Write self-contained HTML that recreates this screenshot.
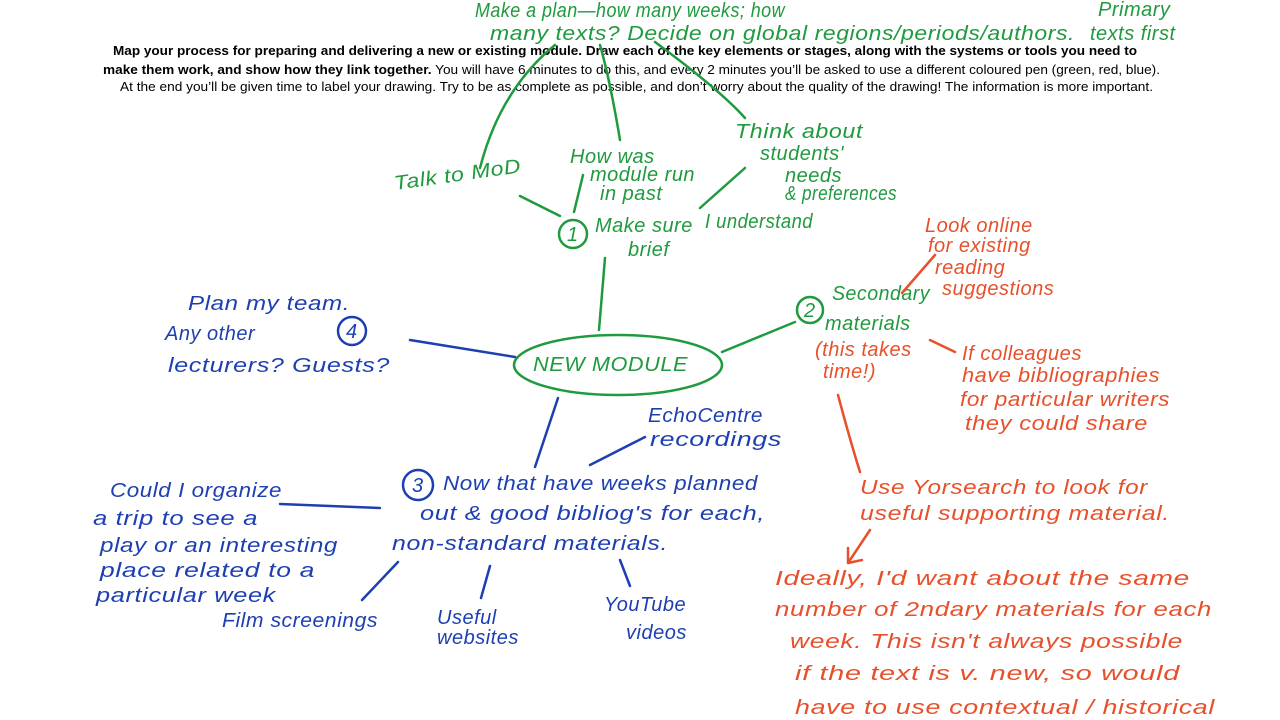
<!DOCTYPE html>
<html><head><meta charset="utf-8">
<style>
html,body{margin:0;padding:0;background:#fff;width:1280px;height:720px;overflow:hidden}
svg{display:block}
.h{font-family:"Liberation Sans",Arial,sans-serif;font-size:13px;fill:#000}
.w{font-family:"Liberation Sans",sans-serif;font-style:italic;font-size:20px;letter-spacing:0.5px}
.g{fill:#1f9a3e}.b{fill:#1d3fb2}.r{fill:#e8502b}
.lg{stroke:#1f9a3e;stroke-width:2.5;fill:none;stroke-linecap:round}
.lb{stroke:#1d3fb2;stroke-width:2.5;fill:none;stroke-linecap:round}
.lr{stroke:#e8502b;stroke-width:2.5;fill:none;stroke-linecap:round}
</style></head><body>
<svg width="1280" height="720" viewBox="0 0 1280 720">
<text class="h" x="113" y="55" textLength="1024" lengthAdjust="spacingAndGlyphs" font-weight="bold">Map your process for preparing and delivering a new or existing module. Draw each of the key elements or stages, along with the systems or tools you need to</text>
<text class="h" x="103" y="74" textLength="1057" lengthAdjust="spacingAndGlyphs"><tspan font-weight="bold">make them work, and show how they link together.</tspan> You will have 6 minutes to do this, and every 2 minutes you’ll be asked to use a different coloured pen (green, red, blue).</text>
<text class="h" x="120" y="91" textLength="1033" lengthAdjust="spacingAndGlyphs">At the end you’ll be given time to label your drawing. Try to be as complete as possible, and don’t worry about the quality of the drawing! The information is more important.</text>

<!-- green -->
<text class="w g" x="475" y="17" textLength="310" lengthAdjust="spacingAndGlyphs">Make a plan—how many weeks; how</text>
<text class="w g" x="490" y="40" textLength="585" lengthAdjust="spacingAndGlyphs">many texts? Decide on global regions/periods/authors.</text>
<text class="w g" x="1098" y="16">Primary</text>
<text class="w g" x="1090" y="40">texts first</text>
<text class="w g" x="735" y="138" textLength="128" lengthAdjust="spacingAndGlyphs">Think about</text>
<text class="w g" x="760" y="160">students'</text>
<text class="w g" x="785" y="182">needs</text>
<text class="w g" x="785" y="200" textLength="112" lengthAdjust="spacingAndGlyphs">&amp; preferences</text>
<text class="w g" x="395" y="190" textLength="128" lengthAdjust="spacingAndGlyphs" transform="rotate(-8 395 190)">Talk to MoD</text>
<text class="w g" x="570" y="163">How was</text>
<text class="w g" x="590" y="181">module run</text>
<text class="w g" x="600" y="200">in past</text>
<circle cx="573" cy="234" r="14" class="lg"/>
<text class="w g" x="567" y="241" font-size="17">1</text>
<text class="w g" x="595" y="232">Make sure</text>
<text class="w g" x="628" y="256">brief</text>
<text class="w g" x="705" y="228" textLength="108" lengthAdjust="spacingAndGlyphs">I understand</text>
<path class="lg" d="M480 168 Q500 90 555 45"/>
<path class="lg" d="M620 140 Q610 80 600 45"/>
<path class="lg" d="M655 42 Q720 90 745 118"/>
<path class="lg" d="M520 196 L560 216"/>
<path class="lg" d="M583 175 L574 212"/>
<path class="lg" d="M700 208 L745 168"/>
<path class="lg" d="M605 258 L599 330"/>
<ellipse cx="618" cy="365" rx="104" ry="30" class="lg" stroke-width="3"/>
<text class="w g" x="533" y="371" font-size="20" textLength="155" lengthAdjust="spacingAndGlyphs">NEW MODULE</text>
<path class="lg" d="M722 352 L795 322"/>
<circle cx="810" cy="310" r="13" class="lg"/>
<text class="w g" x="804" y="317" font-size="17">2</text>
<text class="w g" x="832" y="300" textLength="98" lengthAdjust="spacingAndGlyphs">Secondary</text>
<text class="w g" x="825" y="330">materials</text>

<!-- blue -->
<text class="w b" x="188" y="310" textLength="162" lengthAdjust="spacingAndGlyphs">Plan my team.</text>
<text class="w b" x="165" y="340">Any other</text>
<text class="w b" x="168" y="372" textLength="222" lengthAdjust="spacingAndGlyphs">lecturers? Guests?</text>
<circle cx="352" cy="331" r="14" class="lb"/>
<text class="w b" x="346" y="338" font-size="17">4</text>
<path class="lb" d="M410 340 L515 357"/>
<path class="lb" d="M558 398 L535 467"/>
<text class="w b" x="648" y="422" textLength="115" lengthAdjust="spacingAndGlyphs">EchoCentre</text>
<text class="w b" x="650" y="446" textLength="132" lengthAdjust="spacingAndGlyphs">recordings</text>
<path class="lb" d="M645 437 L590 465"/>
<circle cx="418" cy="485" r="15" class="lb"/>
<text class="w b" x="412" y="492" font-size="17">3</text>
<text class="w b" x="443" y="490" textLength="315" lengthAdjust="spacingAndGlyphs">Now that have weeks planned</text>
<text class="w b" x="420" y="520" textLength="345" lengthAdjust="spacingAndGlyphs">out &amp; good bibliog's for each,</text>
<text class="w b" x="392" y="550" textLength="276" lengthAdjust="spacingAndGlyphs">non-standard materials.</text>
<text class="w b" x="110" y="497" textLength="172" lengthAdjust="spacingAndGlyphs">Could I organize</text>
<path class="lb" d="M280 504 L380 508"/>
<text class="w b" x="93" y="525" textLength="165" lengthAdjust="spacingAndGlyphs">a trip to see a</text>
<text class="w b" x="100" y="552" textLength="238" lengthAdjust="spacingAndGlyphs">play or an interesting</text>
<text class="w b" x="100" y="577" textLength="215" lengthAdjust="spacingAndGlyphs">place related to a</text>
<text class="w b" x="96" y="602" textLength="180" lengthAdjust="spacingAndGlyphs">particular week</text>
<text class="w b" x="222" y="627" textLength="156" lengthAdjust="spacingAndGlyphs">Film screenings</text>
<path class="lb" d="M398 562 L362 600"/>
<path class="lb" d="M490 566 L481 598"/>
<path class="lb" d="M620 560 L630 586"/>
<text class="w b" x="437" y="624">Useful</text>
<text class="w b" x="437" y="644">websites</text>
<text class="w b" x="604" y="611">YouTube</text>
<text class="w b" x="626" y="639">videos</text>

<!-- red -->
<text class="w r" x="815" y="356">(this takes</text>
<text class="w r" x="823" y="378">time!)</text>
<text class="w r" x="925" y="232">Look online</text>
<text class="w r" x="928" y="252">for existing</text>
<text class="w r" x="935" y="274">reading</text>
<text class="w r" x="942" y="295">suggestions</text>
<path class="lr" d="M902 293 L935 255"/>
<path class="lr" d="M930 340 L955 352"/>
<text class="w r" x="962" y="360" textLength="120" lengthAdjust="spacingAndGlyphs">If colleagues</text>
<text class="w r" x="962" y="382" textLength="198" lengthAdjust="spacingAndGlyphs">have bibliographies</text>
<text class="w r" x="960" y="406" textLength="210" lengthAdjust="spacingAndGlyphs">for particular writers</text>
<text class="w r" x="965" y="430" textLength="183" lengthAdjust="spacingAndGlyphs">they could share</text>
<path class="lr" d="M838 395 Q850 440 860 472"/>
<text class="w r" x="860" y="494" textLength="288" lengthAdjust="spacingAndGlyphs">Use Yorsearch to look for</text>
<text class="w r" x="860" y="520" textLength="310" lengthAdjust="spacingAndGlyphs">useful supporting material.</text>
<path class="lr" d="M870 530 L848 563 M848 563 L848 548 M848 563 L862 560"/>
<text class="w r" x="775" y="585" textLength="415" lengthAdjust="spacingAndGlyphs">Ideally, I'd want about the same</text>
<text class="w r" x="775" y="616" textLength="437" lengthAdjust="spacingAndGlyphs">number of 2ndary materials for each</text>
<text class="w r" x="790" y="648" textLength="393" lengthAdjust="spacingAndGlyphs">week. This isn't always possible</text>
<text class="w r" x="795" y="680" textLength="385" lengthAdjust="spacingAndGlyphs">if the text is v. new, so would</text>
<text class="w r" x="795" y="714" textLength="420" lengthAdjust="spacingAndGlyphs">have to use contextual / historical</text>
</svg>
</body></html>
